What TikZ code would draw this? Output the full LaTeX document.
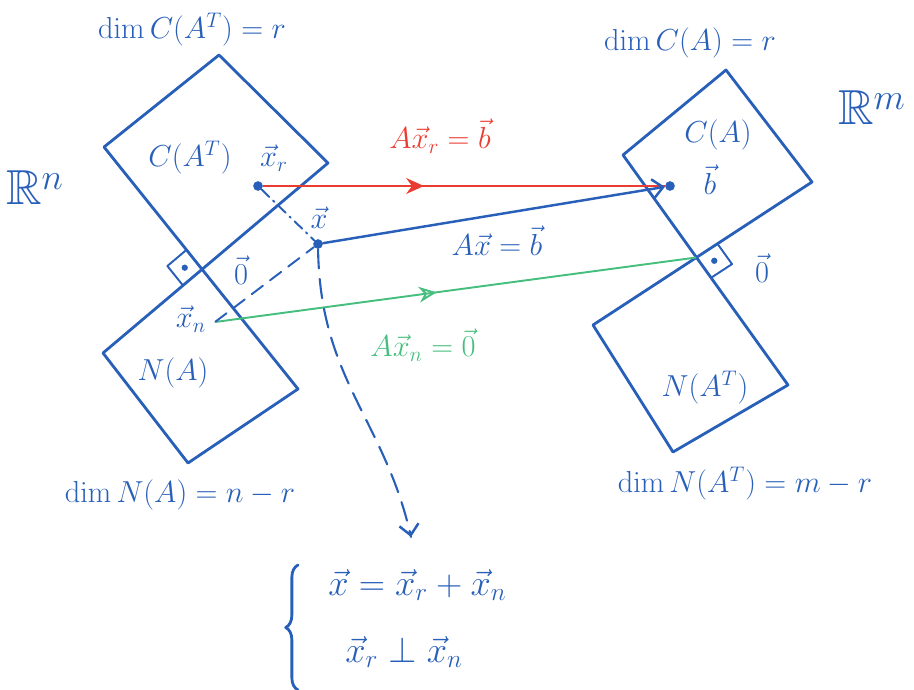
\documentclass[tikz,border=0pt]{standalone}
\usepackage{amssymb}
\usetikzlibrary{arrows.meta,decorations.markings,decorations.pathreplacing,calc}
\definecolor{pen}{RGB}{40,95,185}
\definecolor{redpen}{RGB}{235,60,50}
\definecolor{greenpen}{RGB}{70,190,125}
\begin{document}
\begin{tikzpicture}[x=0.02cm,y=-0.02cm,
  edge/.style={pen, line width=1.6pt, line join=round, line cap=round},
  lbl/.style={pen, inner sep=0pt, font=\fontsize{18}{20}\selectfont},
  dotmark/.style={circle, fill=pen, inner sep=0pt, minimum size=5.5pt},
  pt/.style={inner sep=0pt, minimum size=0pt},
  barb/.style={-{Straight Barb[length=6pt,width=11pt,line width=1.4pt]}},
  midarrow/.style 2 args={postaction={decorate}, decoration={markings, mark=at position #1 with {\arrow{#2}}}}
]
\useasboundingbox (0,0) rectangle (914,690);

% ---------- left picture (R^n) ----------
\coordinate (LL) at (104,147);
\coordinate (LT) at (219,55);
\coordinate (LR) at (328,163);
\coordinate (NL) at (103,353);
\coordinate (NB) at (188,463);
\coordinate (NR) at (298,389);
\coordinate (OL) at (intersection of LR--NL and LL--NR);

\draw[edge] (LL) -- (LT) -- (LR) -- (NL) -- (NB) -- (NR) -- cycle;

% right angle mark left
\coordinate (ml1) at ($(OL)!0.5cm!(LL)$);
\coordinate (ml2) at ($(OL)!0.5cm!(NL)$);
\coordinate (ml3) at ($(ml1)+(ml2)-(OL)$);
\draw[edge, line width=1.1pt] (ml1) -- (ml3) -- (ml2);
\fill[pen] ($(OL)!0.5!(ml3)$) circle (1.8pt);

% ---------- right picture (R^m) ----------
\coordinate (CL) at (623,155);
\coordinate (CT) at (726,70);
\coordinate (CR) at (812,182);
\coordinate (TL) at (593,325);
\coordinate (TB) at (673,452);
\coordinate (TR) at (788,385);
\coordinate (OR) at (intersection of CL--TR and CR--TL);

\draw[edge] (CL) -- (CT) -- (CR) -- (TL) -- (TB) -- (TR) -- cycle;

% right angle mark right
\coordinate (mr1) at ($(OR)!0.5cm!(CR)$);
\coordinate (mr2) at ($(OR)!0.5cm!(TR)$);
\coordinate (mr3) at ($(mr1)+(mr2)-(OR)$);
\draw[edge, line width=1.1pt] (mr1) -- (mr3) -- (mr2);
\fill[pen] ($(OR)!0.5!(mr3)$) circle (1.8pt);

% ---------- points ----------
\node[dotmark] (xr) at (258,186) {};
\node[dotmark] (x)  at (318,244) {};
\node[pt] (xn) at (215,322) {};
\node[dotmark] (b)  at (670,186) {};
\node[pt] (ORn) at (OR) {};
\coordinate (brtip) at (411,537);

% ---------- labels ----------
\node[lbl] (dimCAT) at (192,30) {$\dim C(A^T) = r$};
\node[lbl] (dimCA) at (690,43) {$\dim C(A) = r$};
\node[lbl] (dimNA) at (180,495) {$\dim N(A) = n - r$};
\node[lbl] (dimNAT) at (745,484) {$\dim N(A^T) = m - r$};
\node[lbl, font=\fontsize{28}{30}\selectfont] (Rn) at (35,188) {$\mathbb{R}^n$};
\node[lbl, font=\fontsize{28}{30}\selectfont] (Rm) at (872,108) {$\mathbb{R}^m$};

\node[lbl] (CATl) at (190,158) {$C(A^T)$};
\node[lbl] (xrl) at (274,158) {$\vec{x}_r$};
\node[lbl] (NAl) at (173,373) {$N(A)$};
\node[lbl] (CAl) at (718,135) {$C(A)$};
\node[lbl] (bl) at (710,180) {$\vec{b}$};
\node[lbl] (NATl) at (705,388) {$N(A^T)$};
\node[lbl] (xl) at (319,218) {$\vec{x}$};
\node[lbl] (zl) at (241,270) {$\vec{0}$};
\node[lbl] (zr) at (762,268) {$\vec{0}$};
\node[lbl] (xnl) at (191,319) {$\vec{x}_n$};

\node[lbl, redpen] (redl) at (440,136) {$A\vec{x}_r = \vec{b}$};
\node[lbl] (bluel) at (497,241) {$A\vec{x} = \vec{b}$};
\node[lbl, greenpen] (greenl) at (423,345) {$A\vec{x}_n = \vec{0}$};

% ---------- connectors ----------
\draw[redpen, line width=1.3pt, midarrow={0.4}{Stealth[length=10pt,width=9pt]}] (xr) -- (b);
\draw[edge, line width=1.4pt, barb] (x) -- (b);
\draw[greenpen, line width=1.1pt, midarrow={0.46}{Stealth[open,length=10pt,width=9pt]}] (xn) -- (ORn);

\draw[edge, line width=1.1pt, dash pattern=on 6pt off 3pt on 1pt off 3pt] (xr) -- (x);
\draw[edge, line width=1.1pt, dash pattern=on 8pt off 5pt] (xn) -- (x);
\draw[edge, line width=1.2pt, dash pattern=on 11pt off 6pt] (x) .. controls (320,380) and (385,420) .. (brtip);
\draw[edge, line width=1.2pt, barb] ($(brtip)+(-0.5,-3)$) -- (brtip);

% ---------- bottom equations ----------
\draw[edge, decorate, decoration={brace, amplitude=7pt}] (298,690) -- (298,565);
\node[lbl, anchor=west, font=\fontsize{20}{22}\selectfont] (eq1) at (328,585) {$\vec{x} = \vec{x}_r + \vec{x}_n$};
\node[lbl, anchor=west, font=\fontsize{20}{22}\selectfont] (eq2) at (345,652) {$\vec{x}_r \perp \vec{x}_n$};
\end{tikzpicture}
\end{document}
